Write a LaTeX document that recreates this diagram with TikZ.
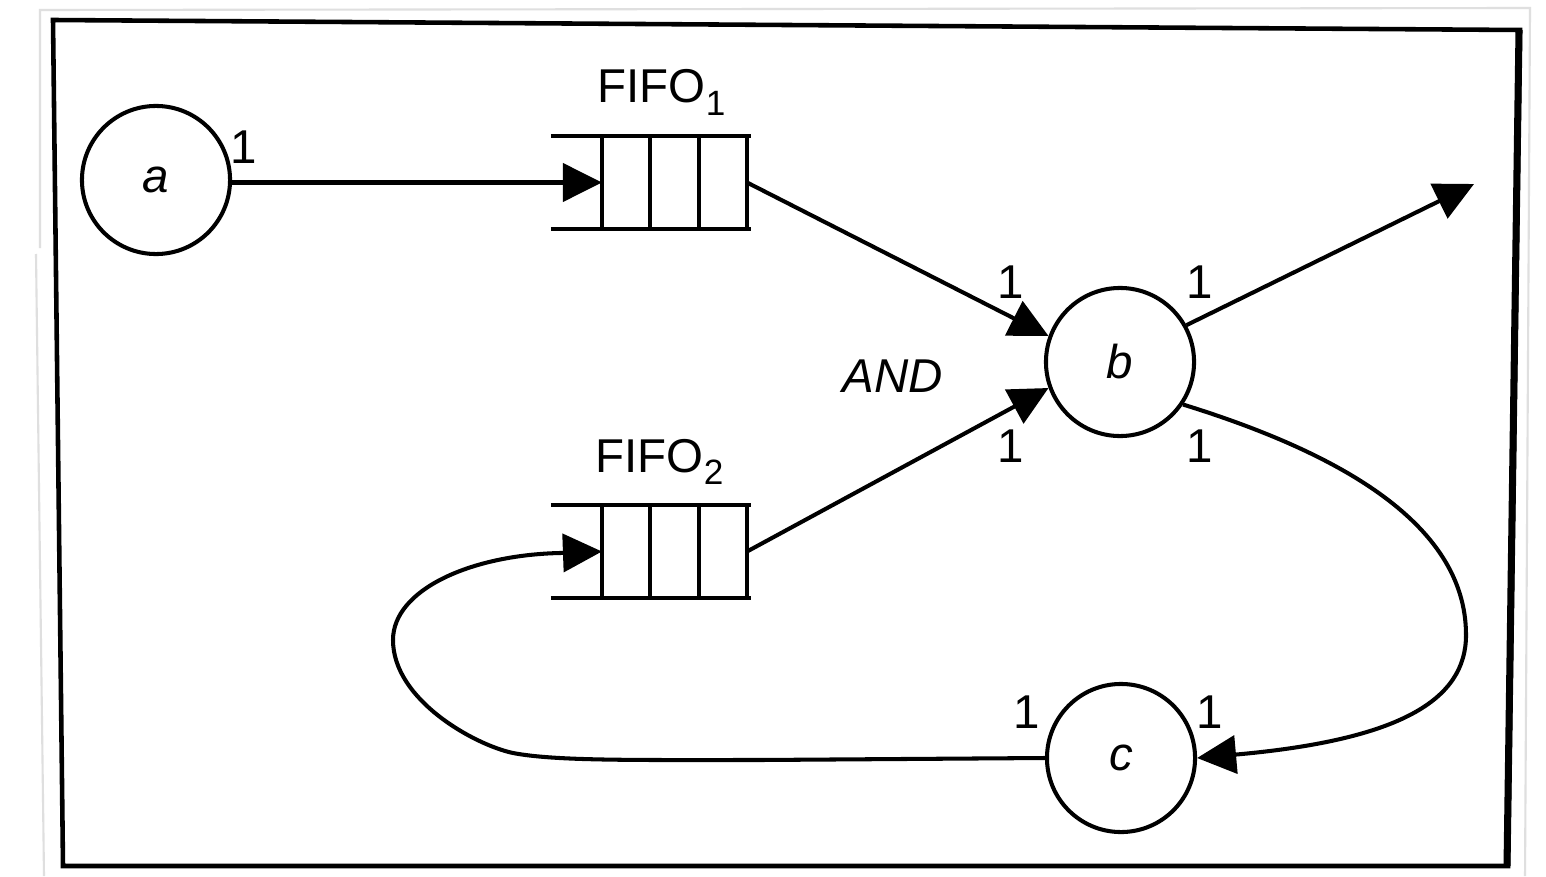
\documentclass[tikz,border=0pt]{standalone}
\usepackage{fontspec}
\setmainfont{Liberation Sans}
\usetikzlibrary{arrows.meta,calc}
\newcommand{\subidx}[1]{\raisebox{-0.27em}{\fontsize{10}{12}\selectfont #1}}
\tikzset{
  place/.style={circle, draw, line width=1.15pt, minimum size=1.48cm, inner sep=0pt, font=\fontsize{13.5}{16}\selectfont\itshape},
  queue/.style={minimum width=1.45cm, minimum height=0.93cm, inner sep=0pt, outer sep=0pt},
  qline/.style={line width=1.2pt},
  arr/.style={line width=1.15pt, -{Triangle[length=0.39cm, width=0.38cm]}},
  lbl/.style={anchor=base, inner sep=0pt, font=\fontsize{13.5}{16}\selectfont},
  ttl/.style={anchor=base west, inner sep=0pt, font=\fontsize{13.5}{16}\selectfont},
  frameline/.style={line width=1.3pt, line join=miter},
  paper/.style={gray!25, line width=0.6pt}
}
\begin{document}
\begin{tikzpicture}[x=0.01cm, y=-0.01cm]
\useasboundingbox (0,0) rectangle (1546,876);
\fill[white] (0,0) rectangle (1546,876);
% paper edges
\draw[paper] (40,248) -- (40,10) -- (1530,8) -- (1525,876);
\draw[paper] (36,254) -- (44,876);
% frame
\draw[frameline] (53,20) -- (1520,30) -- (1508,866) -- (63,866) -- cycle;
\draw[line width=2pt] (1519,30) -- (1507,866);
% places
\node[place] (a) at (156,180) {a};
\node[place] (b) at (1120,362) {b};
\node[place] (c) at (1121,758) {c};
% queues
\node[queue] (fifo1) at (674.5,182.5) {};
\node[queue] (fifo2) at (674.5,551.5) {};
\foreach \q in {fifo1,fifo2}{
  \draw[qline] ([xshift=-0.51cm]\q.north west) -- ([xshift=0.04cm]\q.north east);
  \draw[qline] ([xshift=-0.51cm]\q.south west) -- ([xshift=0.04cm]\q.south east);
  \draw[qline] (\q.north west) -- (\q.south west);
  \draw[qline] ($(\q.north west)!1/3!(\q.north east)$) -- ($(\q.south west)!1/3!(\q.south east)$);
  \draw[qline] ($(\q.north west)!2/3!(\q.north east)$) -- ($(\q.south west)!2/3!(\q.south east)$);
  \draw[qline] (\q.north east) -- (\q.south east);
}
\node[ttl] (t1) at (597,103) {FIFO\subidx{1}};
\node[ttl] (t2) at (595,472) {FIFO\subidx{2}};
\node[font=\fontsize{13.5}{16}\selectfont\itshape] (and) at (893,376) {AND};
% connectors
\coordinate (out) at (1474,184);
\draw[arr] (a.east |- fifo1.west) -- (fifo1.west);
\draw[arr] (fifo1.east) -- (b.160);
\draw[arr] (fifo2.east) -- (b.200);
\draw[arr] (b.29) -- (out);
\draw[arr] (b.-34) .. controls (1330,450) and (1466,520) .. (1466,635)
  .. controls (1466,700) and (1400,740) .. (c.east);
\draw[arr] (c.west) -- (760,760) .. controls (630,760) and (555,761) .. (513,753)
  .. controls (475,745) and (393,700) .. (393,640)
  .. controls (393,590) and (470,555) .. (560,553) -- (fifo2.west);
% weights
\node[lbl] (w1) at (244,163) {1};
\node[lbl] (w2) at (1011,298) {1};
\node[lbl] (w3) at (1200,298) {1};
\node[lbl] (w4) at (1011,462) {1};
\node[lbl] (w5) at (1200,462) {1};
\node[lbl] (w6) at (1027,728) {1};
\node[lbl] (w7) at (1210,728) {1};
\end{tikzpicture}
\end{document}
